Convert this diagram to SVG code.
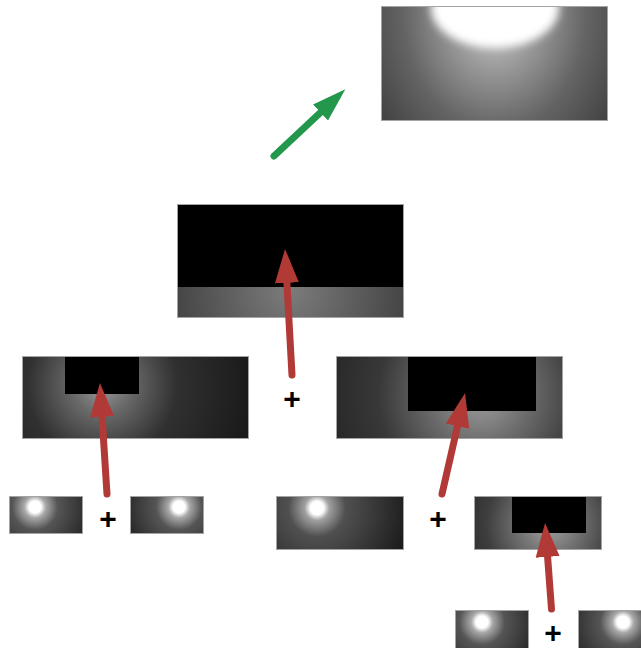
<svg xmlns="http://www.w3.org/2000/svg" width="641" height="648" viewBox="0 0 641 648">
<style>
.frame{stroke:#a4a4a4;stroke-width:1}
.red{stroke:#b13a36;stroke-width:7;stroke-linecap:round;fill:none}
.green{stroke:#23984d;stroke-width:7;stroke-linecap:round;fill:none}
.plus{font-family:"Liberation Sans",Arial,sans-serif;font-weight:bold;font-size:30px;fill:#000;text-anchor:middle}
</style>
<defs>
<marker id="headRed" markerUnits="userSpaceOnUse" viewBox="0 0 34 24" refX="0" refY="12" markerWidth="34" markerHeight="24" orient="auto">
<path d="M0,0 L34,12 L0,24 Z" fill="#b13a36"/>
</marker>
<marker id="headGreen" markerUnits="userSpaceOnUse" viewBox="0 0 34 22" refX="0" refY="11" markerWidth="34" markerHeight="22" orient="auto">
<path d="M0,0 L34,11 L0,22 Z" fill="#23984d"/>
</marker>
<filter id="blur4" x="-50%" y="-50%" width="200%" height="200%"><feGaussianBlur stdDeviation="4"/></filter>
<clipPath id="clipTop"><rect x="381.5" y="6.5" width="226" height="114"/></clipPath>
<radialGradient id="gTop" gradientUnits="userSpaceOnUse" cx="495" cy="15" r="190" gradientTransform="translate(495 15) scale(0.8 1) translate(-495 -15)">
<stop offset="0" stop-color="#d0d0d0"/><stop offset="0.3" stop-color="#979797"/><stop offset="0.6" stop-color="#646464"/><stop offset="1" stop-color="#3a3a3a"/>
</radialGradient>
<radialGradient id="gMid" gradientUnits="userSpaceOnUse" cx="290" cy="290" r="130">
<stop offset="0" stop-color="#7c7c7c"/><stop offset="1" stop-color="#3e3e3e"/>
</radialGradient>
<radialGradient id="gL2" gradientUnits="userSpaceOnUse" cx="102" cy="385" r="150">
<stop offset="0" stop-color="#9a9a9a"/><stop offset="0.2" stop-color="#686868"/><stop offset="0.5" stop-color="#303030"/><stop offset="1" stop-color="#1a1a1a"/>
</radialGradient>
<radialGradient id="gR2" gradientUnits="userSpaceOnUse" cx="480" cy="395" r="170">
<stop offset="0" stop-color="#a0a0a0"/><stop offset="0.3" stop-color="#6a6a6a"/><stop offset="0.6" stop-color="#383838"/><stop offset="1" stop-color="#222"/>
</radialGradient>
<radialGradient id="gS1" gradientUnits="userSpaceOnUse" cx="35" cy="507" r="60">
<stop offset="0" stop-color="#fff"/><stop offset="0.1" stop-color="#fff"/><stop offset="0.18" stop-color="#a8a8a8"/><stop offset="0.38" stop-color="#555"/><stop offset="1" stop-color="#202020"/>
</radialGradient>
<radialGradient id="gS2" gradientUnits="userSpaceOnUse" cx="179" cy="507" r="60">
<stop offset="0" stop-color="#fff"/><stop offset="0.1" stop-color="#fff"/><stop offset="0.18" stop-color="#a8a8a8"/><stop offset="0.38" stop-color="#555"/><stop offset="1" stop-color="#202020"/>
</radialGradient>
<radialGradient id="gS3" gradientUnits="userSpaceOnUse" cx="317" cy="508" r="95">
<stop offset="0" stop-color="#fff"/><stop offset="0.07" stop-color="#fff"/><stop offset="0.13" stop-color="#a0a0a0"/><stop offset="0.3" stop-color="#505050"/><stop offset="1" stop-color="#1a1a1a"/>
</radialGradient>
<radialGradient id="gS4" gradientUnits="userSpaceOnUse" cx="549" cy="525" r="90">
<stop offset="0" stop-color="#a0a0a0"/><stop offset="0.3" stop-color="#777"/><stop offset="0.7" stop-color="#3e3e3e"/><stop offset="1" stop-color="#2a2a2a"/>
</radialGradient>
<radialGradient id="gS5" gradientUnits="userSpaceOnUse" cx="482" cy="622" r="60">
<stop offset="0" stop-color="#fff"/><stop offset="0.1" stop-color="#fff"/><stop offset="0.18" stop-color="#a8a8a8"/><stop offset="0.38" stop-color="#555"/><stop offset="1" stop-color="#202020"/>
</radialGradient>
<radialGradient id="gS6" gradientUnits="userSpaceOnUse" cx="623" cy="622" r="60">
<stop offset="0" stop-color="#fff"/><stop offset="0.1" stop-color="#fff"/><stop offset="0.18" stop-color="#a8a8a8"/><stop offset="0.38" stop-color="#555"/><stop offset="1" stop-color="#202020"/>
</radialGradient>
</defs>
<rect width="641" height="648" fill="#fff"/>

<g id="result">
<rect x="381.5" y="6.5" width="226" height="114" fill="url(#gTop)"/>
<g clip-path="url(#clipTop)"><ellipse cx="495" cy="8" rx="64" ry="40" fill="#fff" filter="url(#blur4)"/></g>
<rect class="frame" x="381.5" y="6.5" width="226" height="114" fill="none"/>
</g>

<g id="mid">
<rect x="177.5" y="204.5" width="226" height="113" fill="#000"/>
<rect x="177.5" y="287" width="226" height="30.5" fill="url(#gMid)"/>
<rect class="frame" x="177.5" y="204.5" width="226" height="113" fill="none"/>
</g>

<g id="left2">
<rect class="frame" x="22.5" y="356.5" width="226" height="82" fill="url(#gL2)"/>
<rect x="65" y="357" width="74" height="37" fill="#000"/>
</g>

<g id="right2">
<rect class="frame" x="336.5" y="356.5" width="226" height="82" fill="url(#gR2)"/>
<rect x="408" y="357" width="128" height="54" fill="#000"/>
</g>

<g id="small1"><rect class="frame" x="9.5" y="496.5" width="73" height="37" fill="url(#gS1)"/></g>
<g id="small2"><rect class="frame" x="130.5" y="496.5" width="73" height="37" fill="url(#gS2)"/></g>
<g id="small3"><rect class="frame" x="276.5" y="496.5" width="127" height="53" fill="url(#gS3)"/></g>
<g id="small4">
<rect class="frame" x="474.5" y="496.5" width="127" height="53" fill="url(#gS4)"/>
<rect x="512" y="497" width="74" height="36" fill="#000"/>
</g>
<g id="small5"><rect class="frame" x="455.5" y="610.5" width="73" height="40" fill="url(#gS5)"/></g>
<g id="small6"><rect class="frame" x="578.5" y="610.5" width="75" height="40" fill="url(#gS6)"/></g>

<g id="connectors">
<line class="green" x1="274" y1="156" x2="320.5" y2="112.5" marker-end="url(#headGreen)"/>
<line class="red" x1="292" y1="375" x2="286.9" y2="282.9" marker-end="url(#headRed)"/>
<line class="red" x1="107" y1="494" x2="102.1" y2="416.9" marker-end="url(#headRed)"/>
<line class="red" x1="442" y1="494" x2="457.5" y2="426.2" marker-end="url(#headRed)"/>
<line class="red" x1="551.5" y1="609" x2="547.6" y2="556.9" marker-end="url(#headRed)"/>
</g>

<g id="plus-signs">
<text class="plus" x="108" y="528.5">+</text>
<text class="plus" x="292" y="408.5">+</text>
<text class="plus" x="438" y="528.5">+</text>
<text class="plus" x="553" y="642.5">+</text>
</g>
</svg>
